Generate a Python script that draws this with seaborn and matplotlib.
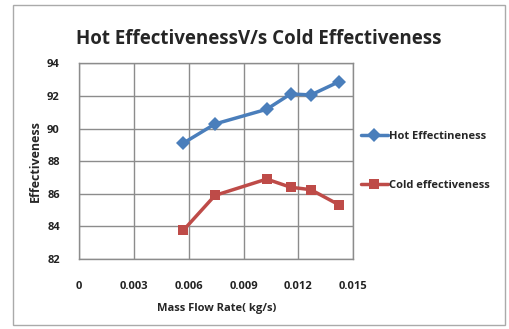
import matplotlib
matplotlib.use("Agg")
import matplotlib.pyplot as plt
import seaborn as sns
import pandas as pd
from matplotlib.patches import Rectangle

mass_flow = [0.00569, 0.00743, 0.01026, 0.01157, 0.01268, 0.01422]
hot_eff = [89.1, 90.28, 91.18, 92.12, 92.06, 92.87]
cold_eff = [83.75, 85.9, 86.9, 86.4, 86.25, 85.32]
series_names = ["Hot Effectineness", "Cold effectiveness"]
x_ticks = [0, 0.003, 0.006, 0.009, 0.012, 0.015]
x_tick_labels = ["0", "0.003", "0.006", "0.009", "0.012", "0.015"]
y_ticks = [82, 84, 86, 88, 90, 92, 94]

df = pd.DataFrame({
    "x": mass_flow * 2,
    "y": hot_eff + cold_eff,
    "series": [series_names[0]] * len(mass_flow) + [series_names[1]] * len(mass_flow),
})

sns.set_style("white")
plt.rcParams["font.family"] = ["Open Sans", "DejaVu Sans"]

fig = plt.figure(figsize=(5.09, 3.29), dpi=100)
ax = fig.add_axes([0.1558, 0.2128, 0.694 - 0.1558, 0.8076 - 0.2128])

palette = {series_names[0]: "#4A7EBB", series_names[1]: "#BE4B48"}
markers = {series_names[0]: "D", series_names[1]: "s"}
sns.lineplot(data=df, x="x", y="y", hue="series", style="series",
             palette=palette, markers=markers, dashes=False,
             markersize=7, linewidth=2.5, markeredgewidth=0, ax=ax)

ax.set_xlim(0, 0.015)
ax.set_ylim(82, 94)
ax.set_xticks(x_ticks)
ax.set_xticklabels(x_tick_labels)
ax.set_yticks(y_ticks)
ax.grid(True, color="#8c8c8c", linewidth=1)
ax.set_axisbelow(True)
for s in ax.spines.values():
    s.set_color("#8c8c8c")
    s.set_linewidth(1)
ax.tick_params(axis="both", length=0, labelsize=8)
ax.tick_params(axis="x", pad=16)
ax.tick_params(axis="y", pad=14)
for lbl in ax.get_xticklabels() + ax.get_yticklabels():
    lbl.set_fontweight("bold")
    lbl.set_color("#222222")

ax.set_xlabel("Mass Flow Rate( kg/s)", fontsize=8, fontweight="bold", labelpad=8)
ax.set_ylabel("Effectiveness", fontsize=9, fontweight="bold", labelpad=4)

fig.text(0.508, 0.882, "Hot EffectivenessV/s Cold Effectiveness",
         ha="center", va="center", fontsize=13.5, fontweight="bold")

handles, labels = ax.get_legend_handles_labels()
ax.legend(handles, labels, loc="center left", bbox_to_anchor=(1.0, 0.50),
          frameon=False, labelspacing=3.4, handlelength=2.4,
          handletextpad=0.15, borderaxespad=0.3,
          prop={"weight": "bold", "size": 8})

fig.patches.append(Rectangle((13 / 509, 4 / 329), (505 - 13) / 509, (324 - 4) / 329,
                             transform=fig.transFigure, fill=False,
                             edgecolor="#aaaaaa", linewidth=1))

fig.savefig("out.png", dpi=100)
